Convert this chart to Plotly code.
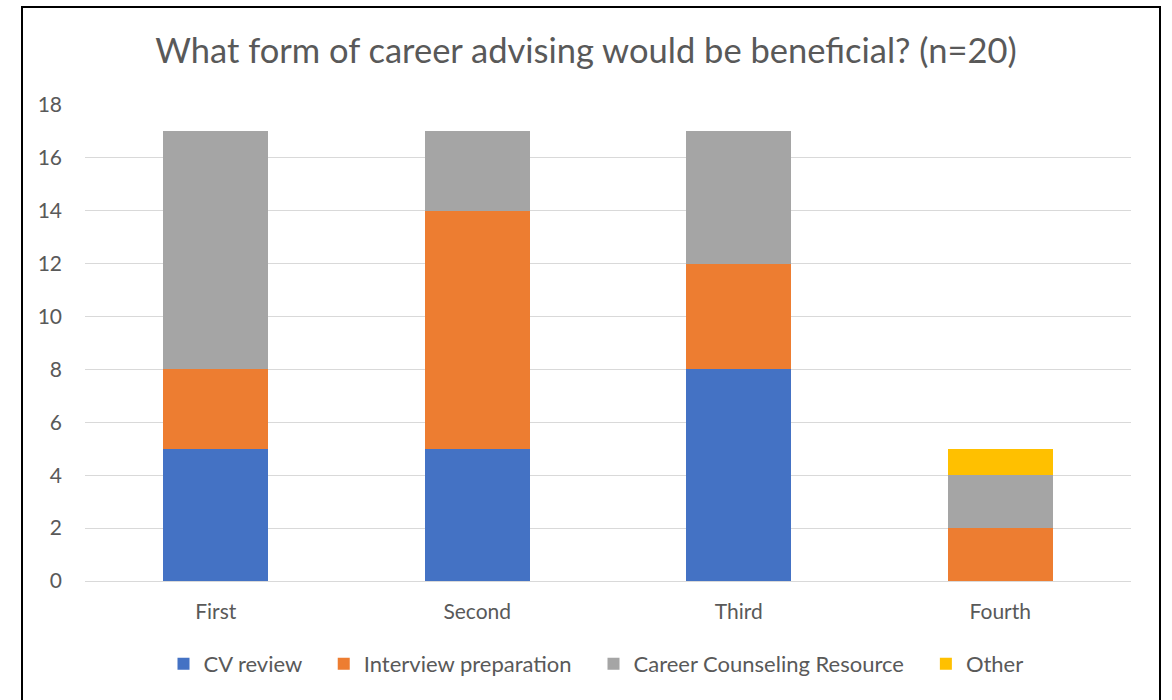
import plotly.graph_objects as go

categories = ["First", "Second", "Third", "Fourth"]
cv_review = [5, 5, 8, 0]
interview_prep = [3, 9, 4, 2]
career_counseling = [9, 3, 5, 2]
other = [0, 0, 0, 1]

series_names = ["CV review", "Interview preparation", "Career Counseling Resource", "Other"]
series_values = [cv_review, interview_prep, career_counseling, other]
series_colors = ["#4472C4", "#ED7D31", "#A5A5A5", "#FFC000"]

FONT = "Lato"
TXT = "#595959"
PAD = "\u00a0" * 3

fig = go.Figure()
for i, (name, vals, color) in enumerate(zip(series_names, series_values, series_colors)):
    label = name + (PAD if i < len(series_names) - 1 else "")
    fig.add_trace(go.Bar(name=label, x=categories, y=vals, marker=dict(color=color, line=dict(width=0))))

L, R, T, B = 85, 41, 105, 119
W, H = 1172, 700
pw = W - L - R
ph = H - T - B

def px(x):
    return (x - L) / pw

def py(y):
    return (H - B - y) / ph

fig.update_layout(
    width=W, height=H,
    barmode="stack",
    bargap=0.6,
    paper_bgcolor="white",
    plot_bgcolor="white",
    margin=dict(l=L, r=R, t=T, b=B),
    font=dict(family=FONT, color=TXT, size=21),
    title=dict(text="What form of career advising would be beneficial? (n=20)",
               x=0.5, xanchor="center", y=1 - 51 / H, yanchor="middle",
               font=dict(family=FONT, size=34.5, color=TXT)),
    legend=dict(orientation="h", x=px(596), xanchor="center", y=py(664), yanchor="middle",
                font=dict(family=FONT, size=22, color=TXT), traceorder="normal"),
    yaxis=dict(range=[0, 18], dtick=2, showgrid=True, gridcolor="#D9D9D9", gridwidth=1,
               zeroline=False, showline=False, ticks="", ticklabelstandoff=22,
               tickfont=dict(family=FONT, size=21, color=TXT)),
    xaxis=dict(showline=True, linecolor="#D9D9D9", linewidth=1, showgrid=False,
               ticks="outside", ticklen=12, tickcolor="rgba(0,0,0,0)",
               tickfont=dict(family=FONT, size=21, color=TXT)),
    shapes=[dict(type="rect", xref="paper", yref="paper",
                 x0=px(22), x1=px(1160), y0=py(710), y1=py(7),
                 line=dict(color="black", width=2), fillcolor="rgba(0,0,0,0)", layer="above")],
)

fig.write_html("out.html", config={"displayModeBar": False})

with open("out.html", "r", encoding="utf-8") as f:
    html = f.read()
html = html.replace("<body>", '<body style="margin:0;padding:0;overflow:hidden">', 1)
with open("out.html", "w", encoding="utf-8") as f:
    f.write(html)
